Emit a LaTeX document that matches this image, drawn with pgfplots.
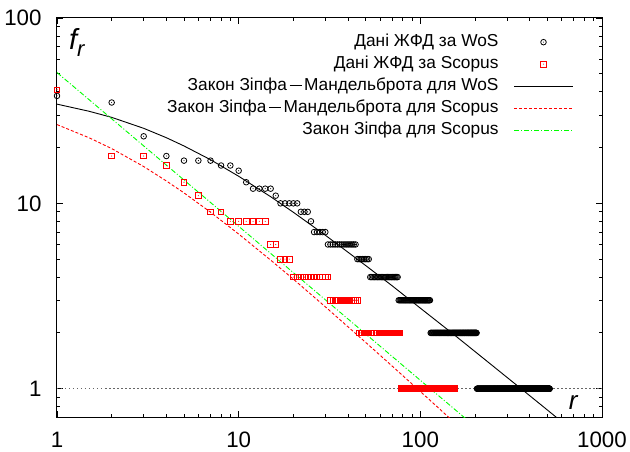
\documentclass[border=0pt]{standalone}
\usepackage{pgfplots}
\pgfplotsset{compat=1.18}
\usepackage{fontspec}
\setmainfont{Liberation Sans}
\newcommand{\zmdash}{\hspace{2.5pt}\rule[5pt]{12pt}{0.9pt}\hspace{2.5pt}}
\pgfdeclareplotmark{odot}{%
  \pgfpathcircle{\pgfpointorigin}{\pgfplotmarksize}\pgfusepathqstroke
  \pgfpathcircle{\pgfpointorigin}{0.55pt}\pgfusepathqfill}
\pgfdeclareplotmark{sdot}{%
  \pgfpathrectangle{\pgfpoint{-\pgfplotmarksize}{-\pgfplotmarksize}}{\pgfpoint{2\pgfplotmarksize}{2\pgfplotmarksize}}\pgfusepathqstroke
  \pgfpathcircle{\pgfpointorigin}{0.55pt}\pgfusepathqfill}
\begin{document}
\begin{tikzpicture}
\useasboundingbox (0,0) rectangle (630pt,451pt);
\begin{axis}[
  at={(57pt,33.6pt)}, anchor=south west,
  scale only axis, width=545pt, height=399.4pt,
  xmode=log, ymode=log,
  xmin=1, xmax=1000, ymin=0.7, ymax=100,
  log ticks with fixed point,
  /pgf/number format/1000 sep={},
  /pgf/number format/assume math mode=true,
  tick label style={font=\fontsize{22.3}{26}\selectfont},
  xticklabel style={inner sep=0pt, yshift=-14.6pt},
  yticklabel style={inner sep=0pt, xshift=-15.3pt},
  tick align=inside,
  major tick length=6pt, minor tick length=3pt,
  every tick/.style={black, line width=0.8pt},
  axis line style={line width=1pt},
  legend plot pos=right,
  legend cell align=right,
  legend image code/.code={\draw[mark repeat=2,mark phase=2,#1] plot coordinates {(0pt,0pt) (29.5pt,0pt) (59pt,0pt)};},
  legend style={draw=none, fill=none, inner sep=0pt, at={(0.948,0.964)}, anchor=north east,
    font=\fontsize{17.3}{21}\selectfont, row sep=2.8pt, column sep=14pt,
    nodes={inner sep=1pt, text height=13pt, text depth=4.2pt}},
]
\addplot[only marks, mark=odot, mark size=2.8pt, black, mark options={line width=0.8pt}] coordinates {
(1,38)(2,35)(3,23)(4,18)(5,17)(6,17)(7,17)(8,16)(9,16)(10,15)(11,13)
(12,12)(13,12)(14,12)(15,12)(16,11)(17,10)(18,10)(19,10)(20,10)(21,10)
(22,9)(23,9)(24,9)(25,8)(26,7)(27,7)(28,7)(29,7)(30,7)
(31,6)(32,6)(33,6)(34,6)(35,6)(36,6)(37,6)(38,6)(39,6)(40,6)(41,6)(42,6)(43,6)(44,6)
(45,5)(46,5)(47,5)(48,5)(49,5)(50,5)(51,5)(52,5)
(53,4)(54,4)(55,4)(56,4)(57,4)(58,4)(59,4)(60,4)(61,4)(62,4)(63,4)(64,4)(65,4)(66,4)(67,4)(68,4)(69,4)(70,4)(71,4)(72,4)(73,4)(74,4)(75,4)
(76,3)(77,3)(78,3)(79,3)(80,3)(81,3)(82,3)(83,3)(84,3)(85,3)(86,3)(87,3)(88,3)(89,3)(90,3)(91,3)(92,3)(93,3)(94,3)
(95,3)(96,3)(97,3)(98,3)(99,3)(100,3)(101,3)(102,3)(103,3)(104,3)(105,3)(106,3)(107,3)(108,3)(109,3)(110,3)(111,3)(112,3)(113,3)
(114,2)(115,2)(116,2)(117,2)(118,2)(119,2)(120,2)(121,2)(122,2)(123,2)(124,2)(125,2)(126,2)(127,2)(128,2)(129,2)
(130,2)(131,2)(132,2)(133,2)(134,2)(135,2)(136,2)(137,2)(138,2)(139,2)(140,2)(141,2)(142,2)(143,2)(144,2)(145,2)
(146,2)(147,2)(148,2)(149,2)(150,2)(151,2)(152,2)(153,2)(154,2)(155,2)(156,2)(157,2)(158,2)(159,2)(160,2)(161,2)
(162,2)(163,2)(164,2)(165,2)(166,2)(167,2)(168,2)(169,2)(170,2)(171,2)(172,2)(173,2)(174,2)(175,2)(176,2)(177,2)
(178,2)(179,2)(180,2)(181,2)(182,2)(183,2)(184,2)(185,2)(186,2)(187,2)(188,2)(189,2)(190,2)(191,2)(192,2)(193,2)
(194,2)(195,2)(196,2)(197,2)(198,2)(199,2)(200,2)(201,2)(202,2)(203,2)(204,2)
(205,1)(206,1)(207,1)(208,1)(209,1)
(210,1)(211,1)(212,1)(213,1)(214,1)(215,1)(216,1)(217,1)(218,1)(219,1)
(220,1)(221,1)(222,1)(223,1)(224,1)(225,1)(226,1)(227,1)(228,1)(229,1)
(230,1)(231,1)(232,1)(233,1)(234,1)(235,1)(236,1)(237,1)(238,1)(239,1)
(240,1)(241,1)(242,1)(243,1)(244,1)(245,1)(246,1)(247,1)(248,1)(249,1)
(250,1)(251,1)(252,1)(253,1)(254,1)(255,1)(256,1)(257,1)(258,1)(259,1)
(260,1)(261,1)(262,1)(263,1)(264,1)(265,1)(266,1)(267,1)(268,1)(269,1)
(270,1)(271,1)(272,1)(273,1)(274,1)(275,1)(276,1)(277,1)(278,1)(279,1)
(280,1)(281,1)(282,1)(283,1)(284,1)(285,1)(286,1)(287,1)(288,1)(289,1)
(290,1)(291,1)(292,1)(293,1)(294,1)(295,1)(296,1)(297,1)(298,1)(299,1)
(300,1)(301,1)(302,1)(303,1)(304,1)(305,1)(306,1)(307,1)(308,1)(309,1)
(310,1)(311,1)(312,1)(313,1)(314,1)(315,1)(316,1)(317,1)(318,1)(319,1)
(320,1)(321,1)(322,1)(323,1)(324,1)(325,1)(326,1)(327,1)(328,1)(329,1)
(330,1)(331,1)(332,1)(333,1)(334,1)(335,1)(336,1)(337,1)(338,1)(339,1)
(340,1)(341,1)(342,1)(343,1)(344,1)(345,1)(346,1)(347,1)(348,1)(349,1)
(350,1)(351,1)(352,1)(353,1)(354,1)(355,1)(356,1)(357,1)(358,1)(359,1)
(360,1)(361,1)(362,1)(363,1)(364,1)(365,1)(366,1)(367,1)(368,1)(369,1)
(370,1)(371,1)(372,1)(373,1)(374,1)(375,1)(376,1)(377,1)(378,1)(379,1)
(380,1)(381,1)(382,1)(383,1)(384,1)(385,1)(386,1)(387,1)(388,1)(389,1)
(390,1)(391,1)(392,1)(393,1)(394,1)(395,1)(396,1)(397,1)(398,1)(399,1)
(400,1)(401,1)(402,1)(403,1)(404,1)(405,1)(406,1)(407,1)(408,1)(409,1)
(410,1)(411,1)(412,1)(413,1)(414,1)(415,1)(416,1)(417,1)(418,1)(419,1)
(420,1)(421,1)(422,1)(423,1)(424,1)(425,1)(426,1)(427,1)(428,1)(429,1)
(430,1)(431,1)(432,1)(433,1)(434,1)(435,1)(436,1)(437,1)(438,1)(439,1)
(440,1)(441,1)(442,1)(443,1)(444,1)(445,1)(446,1)(447,1)(448,1)(449,1)
(450,1)(451,1)(452,1)(453,1)(454,1)(455,1)(456,1)(457,1)(458,1)(459,1)
(460,1)(461,1)(462,1)(463,1)(464,1)(465,1)(466,1)(467,1)(468,1)(469,1)
(470,1)(471,1)(472,1)(473,1)(474,1)(475,1)(476,1)(477,1)(478,1)(479,1)
(480,1)(481,1)(482,1)(483,1)(484,1)(485,1)(486,1)(487,1)(488,1)(489,1)
(490,1)(491,1)(492,1)(493,1)(494,1)(495,1)(496,1)(497,1)(498,1)(499,1)
(500,1)(501,1)(502,1)(503,1)(504,1)(505,1)(506,1)(507,1)(508,1)(509,1)
(510,1)(511,1)(512,1)(513,1)(514,1)(515,1)
};
\addlegendentry{Дані ЖФД за WoS}
\addplot[only marks, mark=sdot, mark size=2.8pt, color=red, mark options={line width=0.8pt}] coordinates {
(1,41)(2,18)(3,18)(4,16)(5,13)(6,11)(7,9)(8,9)
(9,8)(10,8)(11,8)(12,8)(13,8)(14,8)(15,6)(16,6)(17,5)(18,5)(19,5)
(20,4)(21,4)(22,4)(23,4)(24,4)(25,4)(26,4)(27,4)(28,4)(29,4)(30,4)(31,4)
(32,3)(33,3)(34,3)(35,3)(36,3)(37,3)(38,3)(39,3)(40,3)(41,3)(42,3)(43,3)(44,3)(45,3)
(46,2)(47,2)(48,2)(49,2)(50,2)(51,2)(52,2)(53,2)(54,2)(55,2)(56,2)(57,2)(58,2)(59,2)(60,2)(61,2)
(62,2)(63,2)(64,2)(65,2)(66,2)(67,2)(68,2)(69,2)(70,2)(71,2)(72,2)(73,2)(74,2)(75,2)(76,2)(77,2)
(78,1)(79,1)(80,1)(81,1)(82,1)(83,1)(84,1)(85,1)(86,1)(87,1)(88,1)(89,1)
(90,1)(91,1)(92,1)(93,1)(94,1)(95,1)(96,1)(97,1)(98,1)(99,1)
(100,1)(101,1)(102,1)(103,1)(104,1)(105,1)(106,1)(107,1)(108,1)(109,1)
(110,1)(111,1)(112,1)(113,1)(114,1)(115,1)(116,1)(117,1)(118,1)(119,1)
(120,1)(121,1)(122,1)(123,1)(124,1)(125,1)(126,1)(127,1)(128,1)(129,1)
(130,1)(131,1)(132,1)(133,1)(134,1)(135,1)(136,1)(137,1)(138,1)(139,1)
(140,1)(141,1)(142,1)(143,1)(144,1)(145,1)(146,1)(147,1)(148,1)(149,1)
(150,1)(151,1)(152,1)(153,1)(154,1)
};
\addlegendentry{Дані ЖФД за Scopus}
\addplot[black, line width=0.9pt] coordinates {
(1,34.3)(1.5,31.4)(2,29.1)(3,25.4)(4,22.6)(5,20.4)(7,17.2)(10,14.0)(15,10.86)(20,8.95)
(30,6.73)(50,4.62)(70,3.59)(100,2.72)(150,1.99)(200,1.586)(300,1.151)(400,0.917)(500,0.768)(600,0.664)(700,0.587)
};
\addlegendentry{Закон Зіпфа\zmdash Мандельброта для WoS}
\addplot[color=red, line width=0.9pt, dash pattern=on 3pt off 2pt] coordinates {
(1,26.6)(1.5,22.6)(2,19.75)(3,15.8)(4,13.2)(5,11.39)(7,8.96)(10,6.83)(15,4.94)(20,3.90)
(30,2.765)(50,1.778)(70,1.324)(100,0.966)(150,0.673)(200,0.521)
};
\addlegendentry{Закон Зіпфа\zmdash Мандельброта для Scopus}
\addplot[color={rgb,1:red,0;green,1;blue,0}, line width=0.9pt, dash pattern=on 5pt off 2pt on 1pt off 2pt] coordinates {
(1,50.8)(10,7.52)(100,1.11)(200,0.625)
};
\addlegendentry{Закон Зіпфа для Scopus}
\addplot[forget plot, black!60, line width=1pt, dash pattern=on 1.5pt off 2.5pt] coordinates {(1,1)(1000,1)};
\node[anchor=base west, inner sep=0pt] at (rel axis cs:0.022,0.9206)
  {\fontsize{29}{30}\selectfont\itshape f\raisebox{-7pt}{\fontsize{22}{24}\selectfont\itshape r}};
\node[anchor=base west, inner sep=0pt] at (rel axis cs:0.939,0.0193)
  {\fontsize{26}{28}\selectfont\itshape r};
\end{axis}
\end{tikzpicture}
\end{document}
